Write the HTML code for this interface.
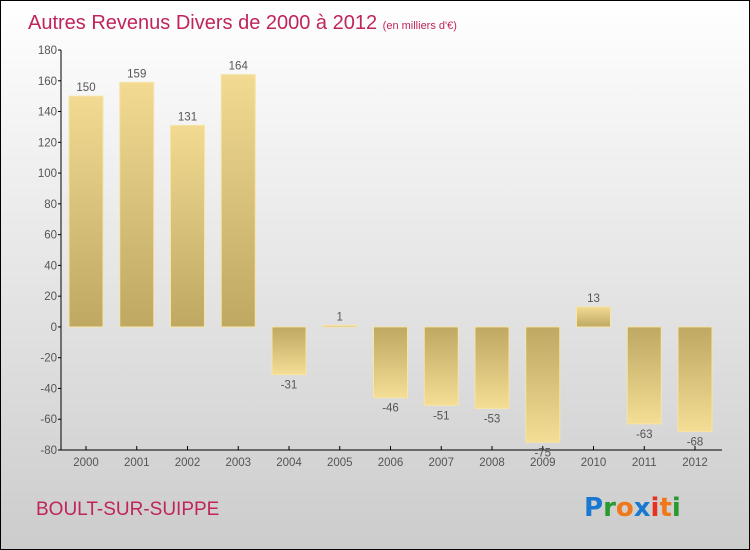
<!DOCTYPE html>
<html><head><meta charset="utf-8"><style>
body{margin:0;width:750px;height:550px;overflow:hidden}
svg{display:block;font-family:"Liberation Sans",sans-serif}
</style></head><body>
<svg id="c" width="750" height="550">
<defs>
<linearGradient id="bg" x1="0" y1="0" x2="0" y2="1"><stop offset="0" stop-color="#ffffff"/><stop offset="1" stop-color="#cccccc"/></linearGradient>
<linearGradient id="gp" x1="0" y1="0" x2="0" y2="1"><stop offset="0" stop-color="#f2da92"/><stop offset="1" stop-color="#bea862"/></linearGradient>
<linearGradient id="gn" x1="0" y1="0" x2="0" y2="1"><stop offset="0" stop-color="#bea862"/><stop offset="1" stop-color="#f4dd94"/></linearGradient>
</defs>
<rect x="0.5" y="0.5" width="749" height="549" fill="url(#bg)" stroke="#000"/>
<text x="28" y="29" font-size="20" fill="#c0245c">Autres Revenus Divers de 2000 à 2012 <tspan font-size="11">(en milliers d'€)</tspan></text>
<text x="36" y="515" font-size="19" fill="#c0245c">BOULT-SUR-SUIPPE</text>
<g font-size="26" font-weight="bold" font-family="'DejaVu Sans',sans-serif">
<text x="584" y="516"><tspan fill="#1a78d0">P</tspan><tspan fill="#2a9a30">r</tspan><tspan fill="#f07818">o</tspan><tspan fill="#1a78d0">x</tspan><tspan fill="#e83020">i</tspan><tspan fill="#f07818">t</tspan><tspan fill="#2a9a30">i</tspan></text>
</g>
<g id="axes"></g>
<g id="bars"></g>
</svg>
<script>
const categories=["2000","2001","2002","2003","2004","2005","2006","2007","2008","2009","2010","2011","2012"];
const values=[150,159,131,164,-31,1,-46,-51,-53,-75,13,-63,-68];
const yTicks=[180,160,140,120,100,80,60,40,20,0,-20,-40,-60,-80];
const NS="http://www.w3.org/2000/svg";
const y=v=>50+(180-v)*400/260;
const x=i=>86+i*50.75;
function mk(t,a,p){const e=document.createElementNS(NS,t);for(const k in a)e.setAttribute(k,a[k]);p.appendChild(e);return e;}
const ax=document.getElementById('axes'),bs=document.getElementById('bars');
const yl=mk('line',{x1:61,y1:50,x2:61,y2:450,stroke:'#000'},ax);


const xl=mk('line',{x1:61,y1:450,x2:722,y2:450,stroke:'#000'},ax);


yTicks.forEach(v=>{
 mk('line',{x1:58,y1:y(v),x2:61,y2:y(v),stroke:'#000'},ax);
 const t=mk('text',{x:57,y:y(v)+4,'font-size':11.5,'text-anchor':'end',fill:'#555'},ax);
 t.textContent=v;
 
 
});
categories.forEach((c,i)=>{
 mk('line',{x1:x(i),y1:446,x2:x(i),y2:450,stroke:'#000'},ax);
 const t=mk('text',{x:x(i),y:466,'font-size':11.5,'text-anchor':'middle',fill:'#555'},ax);
 t.textContent=c;
 
 
 const v=values[i],y0=y(0),yv=y(v);
 const top=Math.min(y0,yv),h=Math.max(Math.abs(y0-yv),1.5);
 const r=mk('rect',{x:x(i)-17,y:top,width:34,height:h,fill:v>=0?'url(#gp)':'url(#gn)',stroke:'#f6e4a8','stroke-width':1},bs);
 
 
 const l=mk('text',{x:x(i),y:v>=0?yv-5:yv+14,'font-size':11.5,'text-anchor':'middle',fill:'#555'},bs);
 l.textContent=v;
 
 
});
</script>
</body></html>
